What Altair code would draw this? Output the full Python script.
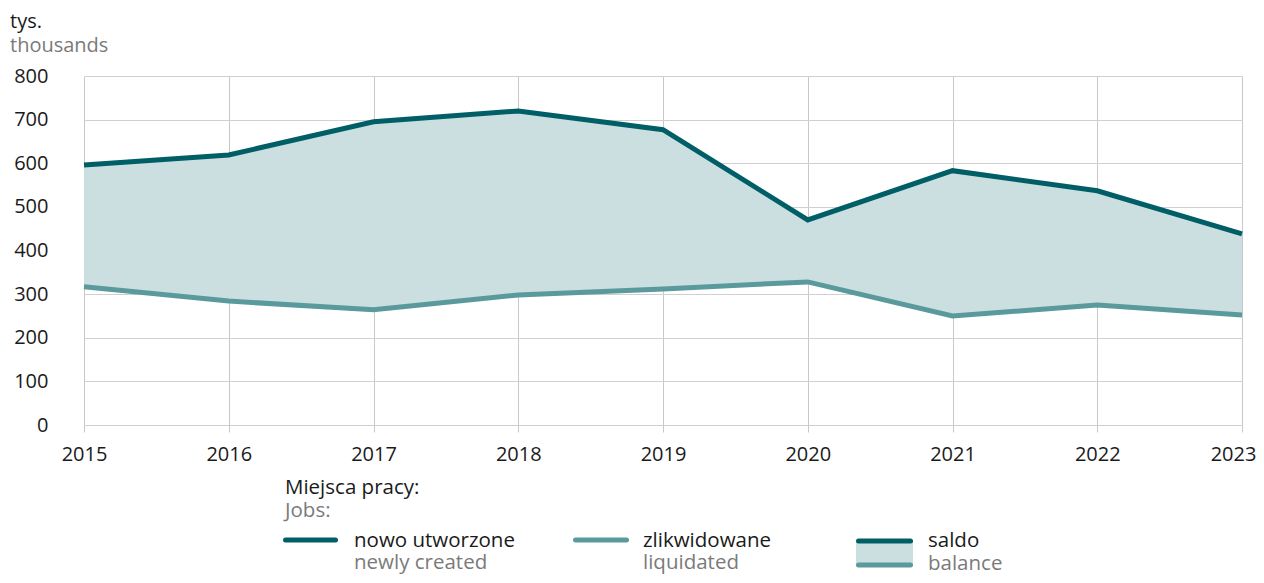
import altair as alt
import pandas as pd

years = [2015, 2016, 2017, 2018, 2019, 2020, 2021, 2022, 2023]
created = [596, 619, 695, 720, 677, 470, 583, 537, 438]
liquidated = [317, 284, 264, 298, 312, 328, 250, 275, 252]

DARK = "#005F66"
LIGHT = "#5A9A9D"
FILL = "#CBDFE0"
GRAY = "#7A7A7A"
FONT = "Open Sans"

df = pd.DataFrame({"year": years, "created": created, "liquidated": liquidated})

W, H = 1158, 349

xenc = alt.X("year:Q", scale=alt.Scale(domain=[2015, 2023], nice=False, zero=False),
             axis=alt.Axis(values=years, format="d", title=None, grid=True, gridColor="#C8C8C8",
                           tickColor="#C8C8C8", tickSize=7, domain=False, labelPadding=12,
                           labelFlush=False,
                           labelOffset=alt.condition("datum.value == 2023", alt.value(-9), alt.value(0)),
                           labelFontSize=20, labelColor="#1a1a1a", labelFont=FONT))
yscale = alt.Scale(domain=[0, 800], nice=False)
yaxis = alt.Axis(values=list(range(0, 900, 100)), title=None, grid=True, gridColor="#D0D0D0",
                 ticks=False, domain=False, labelPadding=36, labelFontSize=20,
                 labelColor="#1a1a1a", labelFont=FONT)

base = alt.Chart(df)
area = base.mark_area(color=FILL, opacity=1).encode(
    x=xenc, y=alt.Y("created:Q", scale=yscale, axis=yaxis), y2="liquidated:Q")
line_c = base.mark_line(color=DARK, strokeWidth=5).encode(x="year:Q", y=alt.Y("created:Q", scale=yscale))
line_l = base.mark_line(color=LIGHT, strokeWidth=5).encode(x="year:Q", y=alt.Y("liquidated:Q", scale=yscale))

one = pd.DataFrame({"a": [0]})

def txt(s, x, y, color="#1a1a1a", size=20.5):
    return alt.Chart(one).mark_text(text=s, align="left", baseline="middle", font=FONT,
                                    fontSize=size, color=color, clip=False).encode(
        x=alt.value(x), y=alt.value(y))

def rule(x1, x2, y, color):
    return alt.Chart(one).mark_rule(color=color, strokeWidth=5, strokeCap="round").encode(
        x=alt.value(x1), x2=alt.value(x2), y=alt.value(y))

legend_rect = alt.Chart(one).mark_rect(color=FILL).encode(
    x=alt.value(772), x2=alt.value(829), y=alt.value(465), y2=alt.value(489))

layers = [
    area, line_l, line_c,
    txt("tys.", -74, -54, size=20), txt("thousands", -74, -30, GRAY, size=20),
    txt("Miejsca pracy:", 201, 412), txt("Jobs:", 201, 435, GRAY),
    rule(201.5, 251.5, 464, DARK), txt("nowo utworzone", 270, 465), txt("newly created", 270, 487, GRAY),
    rule(491.5, 542.5, 464, LIGHT), txt("zlikwidowane", 559, 465), txt("liquidated", 559, 487, GRAY),
    legend_rect, rule(774.5, 826.5, 465, DARK), rule(774.5, 826.5, 489, LIGHT),
    txt("saldo", 844, 465), txt("balance", 844, 488, GRAY),
]

chart = alt.layer(*layers).properties(
    width=W, height=H,
    autosize=alt.AutoSizeParams(type="none"),
    padding={"left": 76, "top": 68, "right": 14, "bottom": 149},
).configure_view(stroke=None)

chart.save("out.html", embed_options={"renderer": "svg", "actions": False})
